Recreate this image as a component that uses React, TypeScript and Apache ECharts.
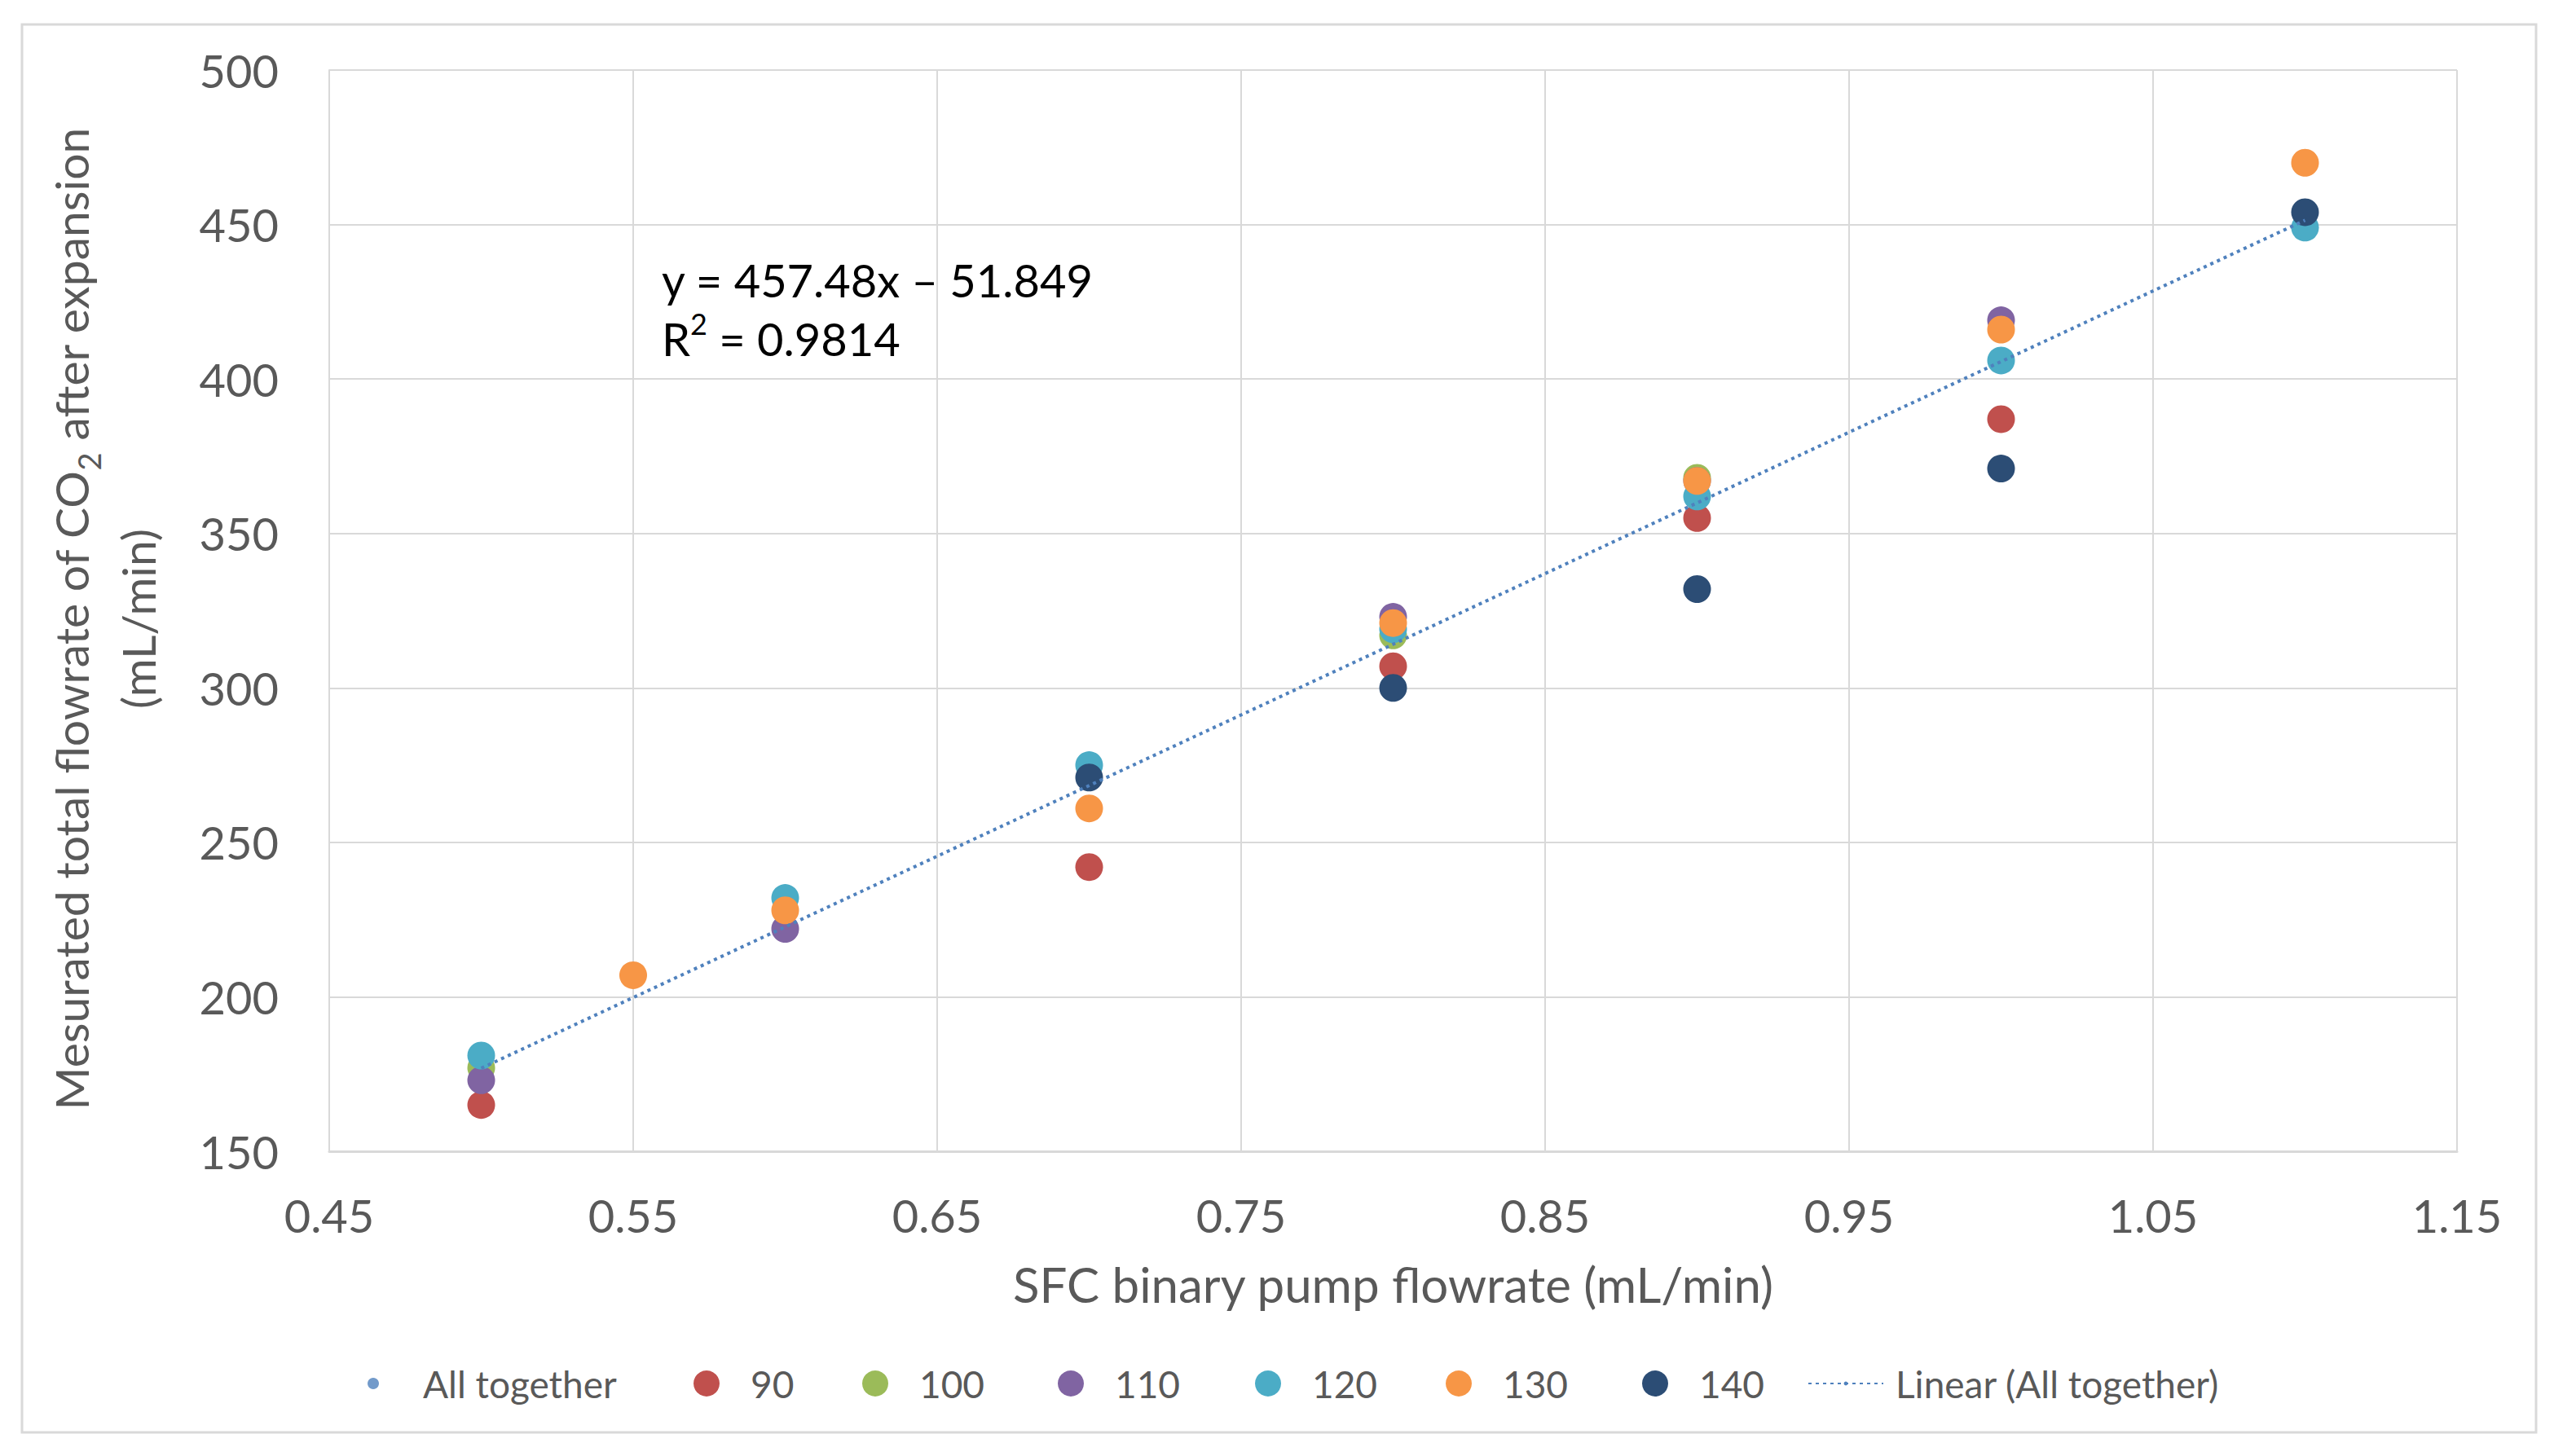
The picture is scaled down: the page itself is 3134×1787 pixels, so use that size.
import React, { useEffect, useRef } from "react";
import * as echarts from "echarts";

// ---- data ----
const xAxisMin = 0.45;
const xAxisMax = 1.15;
const xAxisStep = 0.1;
const yAxisMin = 150;
const yAxisMax = 500;
const yAxisStep = 50;

const seriesNames = ["90", "100", "110", "120", "130", "140"];
const seriesColors = ["#C0504D", "#9BBB59", "#8064A2", "#4BACC6", "#F79646", "#2C4D75"];

const s90 = [[0.5, 165], [0.7, 242], [0.8, 307], [0.9, 355], [1.0, 387]];
const s100 = [[0.5, 177], [0.8, 317], [0.9, 368]];
const s110 = [[0.5, 173], [0.6, 222], [0.8, 323], [0.9, 367], [1.0, 419]];
const s120 = [[0.5, 181], [0.6, 232], [0.7, 275], [0.8, 319], [0.9, 362], [1.0, 406], [1.1, 449]];
const s130 = [[0.55, 207], [0.6, 228], [0.7, 261], [0.8, 321], [0.9, 367], [1.0, 416], [1.1, 470]];
const s140 = [[0.7, 271], [0.8, 300], [0.9, 332], [1.0, 371], [1.1, 454]];

const allTogetherName = "All together";
const allTogetherColor = "#4F81BD";
const trendName = "Linear (All together)";
const trendLine = [[0.5, 176.89], [1.1, 451.38]];
const equationText = "y = 457.48x \u2013 51.849";
const r2Text = "0.9814";

const xTitle = "SFC binary pump flowrate (mL/min)";
const yTitleA = "Mesurated total flowrate of CO";
const yTitleB = " after expansion";
const yTitleUnit = "(mL/min)";

const groups = [s90, s100, s110, s120, s130, s140];

const FONT = "Lato, 'Open Sans', sans-serif";
const GREY_TEXT = "#595959";
const GRID = "#d9d9d9";

export default function App() {
  const ref = useRef<HTMLDivElement>(null);

  useEffect(() => {
    document.body.style.margin = "0";
    document.body.style.overflow = "hidden";
    if (!ref.current) return;
    const chart = echarts.init(ref.current, undefined, { renderer: "svg" });

    const allData = groups.reduce((acc: number[][], g) => acc.concat(g), []);

    const scatterSeries = groups.map((g, i) => ({
      name: seriesNames[i],
      type: "scatter",
      data: g,
      symbol: "circle",
      symbolSize: 34,
      itemStyle: { color: seriesColors[i], opacity: 1 },
      z: 3 + i,
    }));

    const legendLefts = [451, 851, 1058, 1298, 1540, 1774, 2015, 2218];
    const legendNames = [allTogetherName, ...seriesNames, trendName];
    const legendTop = 1675;
    const legends = legendNames.map((n, i) => {
      let w = 32, h = 32, pad = 33;
      if (i === 0) { w = 14; h = 14; pad = 49; }
      if (i === legendNames.length - 1) { w = 92; h = 6; pad = 10; }
      return {
        show: true,
        orient: "horizontal",
        left: legendLefts[i],
        top: legendTop,
        data: [n],
        itemWidth: w,
        itemHeight: h,
        padding: 0,
        selectedMode: false,
        textStyle: {
          fontSize: 46,
          color: GREY_TEXT,
          fontFamily: FONT,
          padding: [0, 0, 0, pad],
        },
      };
    });

    const option: any = {
      animation: false,
      backgroundColor: "#ffffff",
      textStyle: { fontFamily: FONT },
      grid: { left: 404, right: 119, top: 86, bottom: 374, containLabel: false },
      legend: legends,
      xAxis: {
        type: "value",
        min: xAxisMin,
        max: xAxisMax,
        interval: xAxisStep,
        name: xTitle,
        nameLocation: "middle",
        nameGap: 133,
        nameTextStyle: { fontSize: 60, color: GREY_TEXT, fontFamily: FONT },
        axisLine: { show: true, lineStyle: { color: GRID, width: 3 } },
        axisTick: { show: false },
        splitLine: { show: true, lineStyle: { color: GRID, width: 2 } },
        axisLabel: {
          fontSize: 56,
          color: GREY_TEXT,
          fontFamily: FONT,
          margin: 50,
          formatter: (v: number) => v.toFixed(2),
        },
      },
      yAxis: {
        type: "value",
        min: yAxisMin,
        max: yAxisMax,
        interval: yAxisStep,
        name: yTitleA + "{sub|2}" + yTitleB + "\n" + yTitleUnit,
        nameLocation: "middle",
        nameGap: 194,
        nameTextStyle: {
          fontSize: 57,
          lineHeight: 82,
          color: GREY_TEXT,
          fontFamily: FONT,
          padding: [0, 20, 0, 0],
          rich: {
            sub: { fontSize: 38, lineHeight: 62, verticalAlign: "bottom", color: GREY_TEXT, fontFamily: FONT },
          },
        },
        axisLine: { show: true, lineStyle: { color: GRID, width: 2 } },
        axisTick: { show: false },
        splitLine: { show: true, lineStyle: { color: GRID, width: 2 } },
        axisLabel: { fontSize: 56, color: GREY_TEXT, fontFamily: FONT, margin: 62 },
      },
      series: [
        {
          name: allTogetherName,
          type: "scatter",
          data: allData,
          symbol: "circle",
          symbolSize: 12,
          itemStyle: { color: allTogetherColor },
          z: 2,
        },
        ...scatterSeries,
        {
          name: trendName,
          type: "line",
          data: trendLine,
          symbol: "none",
          showSymbol: false,
          itemStyle: { color: allTogetherColor },
          lineStyle: { color: allTogetherColor, width: 4, type: [4, 5] },
          z: 20,
        },
      ],
      graphic: [
        {
          type: "rect",
          shape: { x: 27, y: 30, width: 3085, height: 1728 },
          style: { fill: "none", stroke: GRID, lineWidth: 3 },
          silent: true,
          z: 0,
        },
        {
          type: "text",
          x: 812,
          y: 307,
          z: 30,
          style: {
            text: equationText + "\nR{sup|2} = " + r2Text,
            fontSize: 56,
            lineHeight: 72,
            fontFamily: FONT,
            fill: "#000000",
            rich: {
              sup: { fontSize: 36, lineHeight: 44, verticalAlign: "top", fill: "#000000", fontFamily: FONT },
            },
          },
        },
      ],
    };

    chart.setOption(option);
    return () => {
      chart.dispose();
    };
  }, []);

  return <div ref={ref} style={{ width: 3134, height: 1787 }} />;
}
